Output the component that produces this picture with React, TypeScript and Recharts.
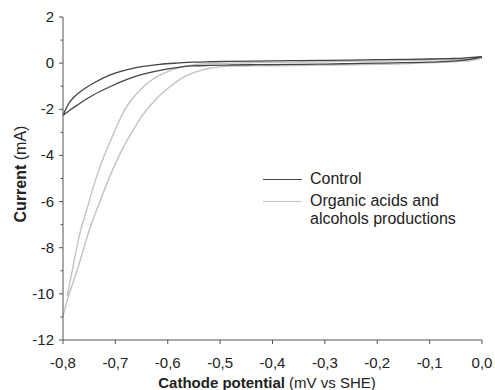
import * as React from "react";
import { LineChart, Line, XAxis, YAxis, Label } from "recharts";

// cyclic voltammetry loops (forward scan, then return scan)
const controlX = [-0.8, -0.787, -0.768, -0.743, -0.711, -0.679, -0.647, -0.615, -0.583, -0.552, -0.52, -0.48, -0.44, -0.4, -0.35, -0.3, -0.25, -0.2, -0.15, -0.1, -0.06, -0.03, 0,
  -0.02, -0.05, -0.1, -0.15, -0.2, -0.25, -0.3, -0.35, -0.4, -0.44, -0.48, -0.52, -0.552, -0.583, -0.615, -0.647, -0.679, -0.711, -0.743, -0.768, -0.787, -0.8];
const controlY = [-2.27, -1.68, -1.25, -0.88, -0.52, -0.29, -0.14, -0.05, 0, 0.04, 0.06, 0.08, 0.09, 0.1, 0.11, 0.12, 0.13, 0.15, 0.16, 0.18, 0.2, 0.23, 0.28,
  0.17, 0.1, 0.04, 0.02, 0, -0.02, -0.04, -0.05, -0.06, -0.07, -0.08, -0.1, -0.12, -0.19, -0.31, -0.48, -0.71, -1.03, -1.39, -1.75, -2.04, -2.27];

const organicX = [-0.792, -0.781, -0.768, -0.755, -0.736, -0.717, -0.698, -0.679, -0.663, -0.647, -0.631, -0.615, -0.599, -0.583, -0.565, -0.545, -0.52, -0.48, -0.44, -0.4, -0.35, -0.3, -0.25, -0.2, -0.15, -0.1, -0.06, -0.03, 0,
  -0.02, -0.05, -0.1, -0.15, -0.2, -0.25, -0.3, -0.35, -0.4, -0.44, -0.48, -0.5, -0.52, -0.535, -0.552, -0.568, -0.583, -0.599, -0.615, -0.628, -0.641, -0.654, -0.666, -0.679, -0.691, -0.711, -0.736, -0.752, -0.771, -0.79, -0.8];
const organicY = [-10.1, -8.83, -7.39, -6.38, -4.93, -3.78, -2.77, -1.9, -1.42, -1.03, -0.74, -0.52, -0.36, -0.23, -0.13, -0.06, -0.02, 0, 0.02, 0.03, 0.05, 0.06, 0.08, 0.09, 0.11, 0.13, 0.15, 0.18, 0.22,
  0.12, 0.06, 0.01, -0.03, -0.05, -0.07, -0.08, -0.1, -0.11, -0.12, -0.13, -0.16, -0.22, -0.3, -0.42, -0.58, -0.8, -1.08, -1.39, -1.7, -2.04, -2.45, -2.91, -3.4, -3.92, -4.93, -6.38, -7.39, -8.83, -10.13, -11.0];

const xTicks = [-0.8, -0.7, -0.6, -0.5, -0.4, -0.3, -0.2, -0.1, 0];
const yTicks = [-12, -11, -10, -9, -8, -7, -6, -5, -4, -3, -2, -1, 0, 1, 2];

const controlData = controlX.map((x, i) => ({ x, y: controlY[i] }));
const organicData = organicX.map((x, i) => ({ x, y: organicY[i] }));

const FONT = "'Liberation Sans', Arial, sans-serif";
const AXIS = "#555";
const TEXT = "#222";

const fmtX = (v: number) => (v === 0 ? "0,0" : v.toFixed(1).replace(".", ","));

const BottomTick = (props: any) => {
  const { x, y, payload } = props;
  return (
    <g>
      <line x1={x} x2={x} y1={y} y2={y + 4} stroke={AXIS} />
      <text x={x} y={y + 28} textAnchor="middle" fontSize={15} fontFamily={FONT} fill={TEXT}>
        {fmtX(payload.value)}
      </text>
    </g>
  );
};

const TopTick = (props: any) => {
  const { x, y, payload } = props;
  if (payload.value <= -0.8 || payload.value >= 0) return <g />;
  return <line x1={x} x2={x} y1={y} y2={y + 4} stroke={AXIS} />;
};

const LeftTick = (props: any) => {
  const { x, y, payload } = props;
  const major = payload.value % 2 === 0;
  return (
    <g>
      <line x1={x - (major ? 4 : 2.5)} x2={x} y1={y} y2={y} stroke={AXIS} />
      {major && (
        <text x={x - 9} y={y + 5} textAnchor="end" fontSize={15} fontFamily={FONT} fill={TEXT}>
          {payload.value}
        </text>
      )}
    </g>
  );
};

const RightTick = (props: any) => {
  const { x, y, payload } = props;
  if (payload.value <= -12 || payload.value >= 2) return <g />;
  return <line x1={x - 3} x2={x} y1={y} y2={y} stroke={AXIS} />;
};

const XTitle = () => (
  <text x={267} y={388} textAnchor="middle" fontSize={15} fontFamily={FONT} fill={TEXT}>
    <tspan fontWeight="bold">Cathode potential</tspan>
    <tspan> (mV vs SHE)</tspan>
  </text>
);

const YTitle = () => (
  <text x={26} y={174} transform="rotate(-90, 26, 174)" textAnchor="middle" fontSize={16} fontFamily={FONT} fill={TEXT}>
    <tspan fontWeight="bold">Current</tspan>
    <tspan> (mA)</tspan>
  </text>
);

export default function App() {
  return (
    <div style={{ position: "absolute", left: 0, top: 0, width: 495, height: 390, background: "#fff" }}>
      <LineChart width={495} height={390} margin={{ top: 17, right: 13, bottom: 0, left: 0 }}>
        <XAxis
          dataKey="x"
          type="number"
          domain={[-0.8, 0]}
          ticks={xTicks}
          interval={0}
          height={50}
          tickSize={0}
          tickMargin={0}
          tickLine={false}
          axisLine={{ stroke: AXIS }}
          tick={<BottomTick />}
          allowDataOverflow
        >
          <Label content={<XTitle />} />
        </XAxis>
        <XAxis
          xAxisId="top"
          orientation="top"
          dataKey="x"
          type="number"
          domain={[-0.8, 0]}
          ticks={xTicks}
          interval={0}
          height={0}
          tickSize={0}
          tickMargin={0}
          tickLine={false}
          axisLine={{ stroke: AXIS }}
          tick={<TopTick />}
          allowDataOverflow
        />
        <YAxis
          type="number"
          domain={[-12, 2]}
          ticks={yTicks}
          interval={0}
          width={63}
          tickSize={0}
          tickMargin={0}
          tickLine={false}
          axisLine={{ stroke: AXIS }}
          tick={<LeftTick />}
          allowDataOverflow
        >
          <Label content={<YTitle />} />
        </YAxis>
        <YAxis
          yAxisId="right"
          orientation="right"
          type="number"
          domain={[-12, 2]}
          ticks={yTicks}
          interval={0}
          width={0}
          tickSize={0}
          tickMargin={0}
          tickLine={false}
          axisLine={{ stroke: AXIS }}
          tick={<RightTick />}
          allowDataOverflow
        />
        <Line data={organicData} dataKey="y" type="natural" stroke="#c2c2c2" strokeWidth={1.4} dot={false} isAnimationActive={false} />
        <Line data={controlData} dataKey="y" type="natural" stroke="#444" strokeWidth={1.3} dot={false} isAnimationActive={false} />
      </LineChart>
      <div style={{ position: "absolute", left: 263, top: 170, fontFamily: FONT, fontSize: 16, color: TEXT, lineHeight: "18px" }}>
        <div style={{ display: "flex", alignItems: "center" }}>
          <span style={{ display: "inline-block", width: 39, borderTop: "1.3px solid #444", marginRight: 8 }} />
          <span>Control</span>
        </div>
        <div style={{ display: "flex", alignItems: "flex-start", marginTop: 4 }}>
          <span style={{ display: "inline-block", width: 39, borderTop: "1.4px solid #c2c2c2", marginRight: 8, marginTop: 9 }} />
          <span>
            Organic acids and
            <br />
            alcohols productions
          </span>
        </div>
      </div>
    </div>
  );
}
